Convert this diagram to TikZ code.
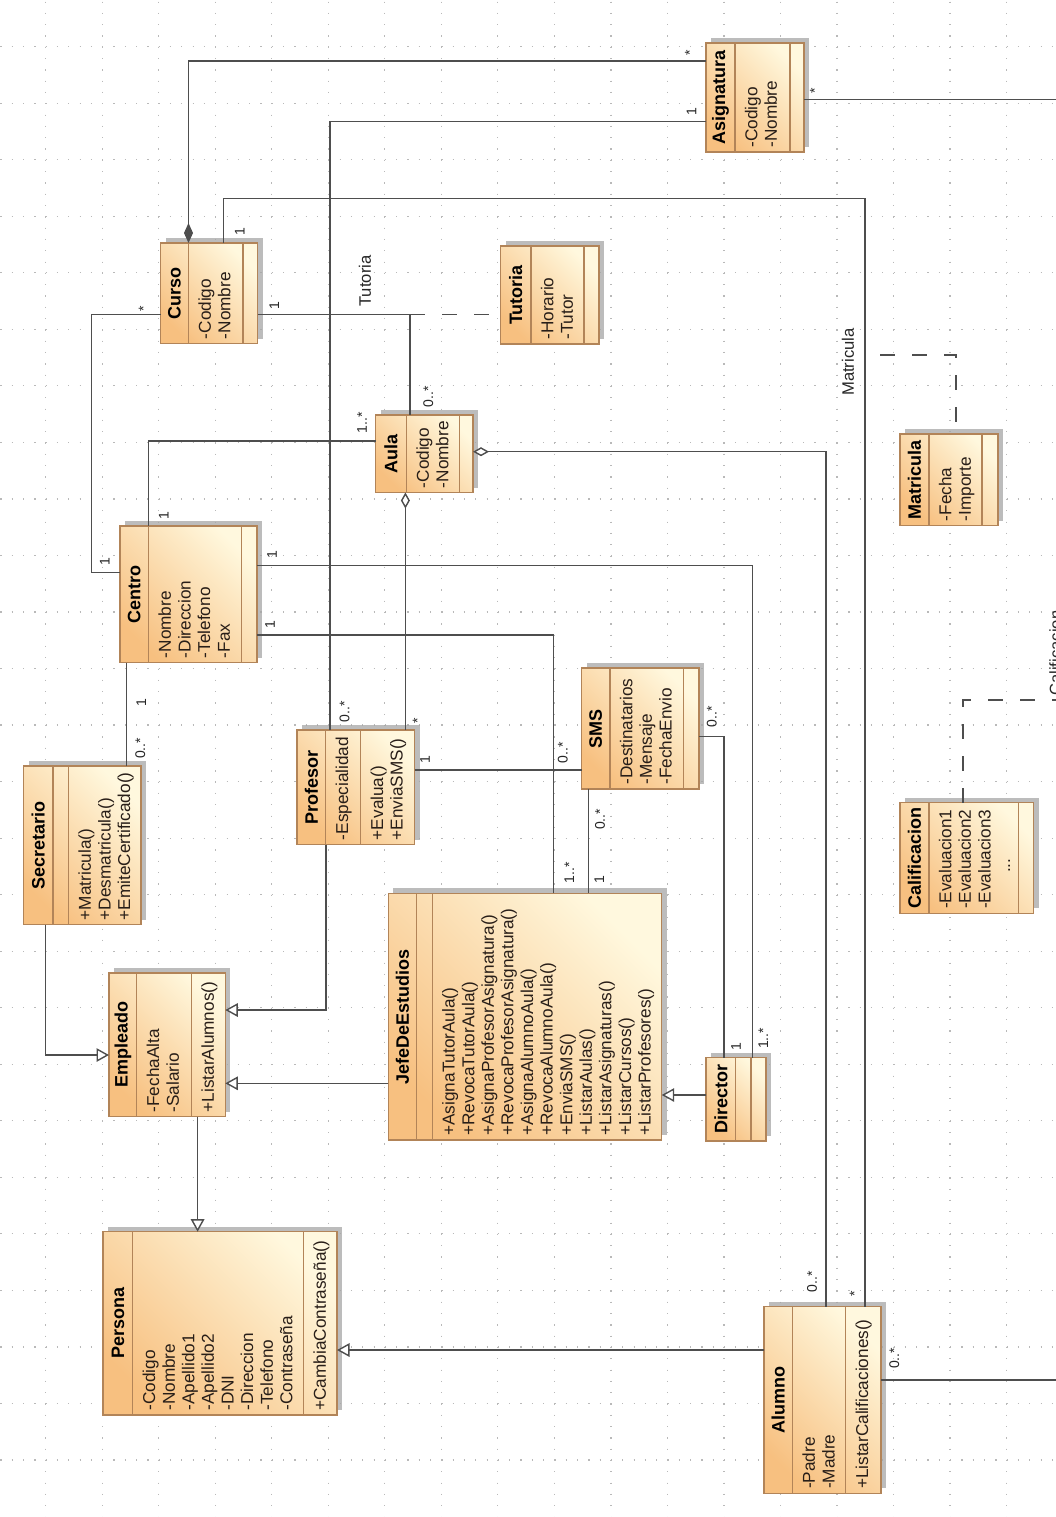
\documentclass[tikz,border=0pt]{standalone}
\usepackage{fontspec}
\setmainfont{Liberation Sans}
\usetikzlibrary{arrows.meta,fit,shadows}
\definecolor{cLight}{RGB}{255,248,222}
\definecolor{cDark}{RGB}{247,192,128}
\definecolor{cBord}{RGB}{178,132,88}
\definecolor{lineC}{RGB}{78,78,78}
\definecolor{gridC}{RGB}{185,185,185}
\definecolor{txtC}{RGB}{40,30,24}

\newcommand\umlcls[7]{\def\cN{#1}\def\cXa{#2}\def\cYa{#3}\def\cXb{#4}\def\cYb{#5}\def\cDa{#6}\def\cDb{#7}\umlclsfinish}
\newcommand\umlclsfinish[3]{%
  \node[classbox, fit={(\cXa,\cYa) (\cXb,\cYb)}] (\cN) {};
  \draw[cborder] (\cN.north -| \cDa,0) -- (\cN.south -| \cDa,0) (\cN.north -| \cDb,0) -- (\cN.south -| \cDb,0);
  \node[cname] (\cN-t) at ({(\cXa+\cDa)/2},{(\cYa+\cYb)/2}) {#1};
  \node[cattr] (\cN-a) at ({\cDa+9.5},{\cYb-4}) {#2};
  \node[cattr] (\cN-m) at ({\cDb+9.5},{\cYb-4}) {#3};
}

\begin{document}
\begin{tikzpicture}[x=0.5pt,y=-0.5pt,
  classbox/.style={rectangle, inner sep=0pt, outer sep=0pt, draw=cBord, line width=0.65pt,
    top color=cLight, bottom color=cDark, shading angle=-45,
    drop shadow={shadow xshift=2.5pt, shadow yshift=2.5pt, fill=black!35, opacity=0.75}},
  cborder/.style={draw=cBord, line width=0.65pt},
  cname/.style={rotate=90, inner sep=0pt, font=\fontsize{9}{10}\selectfont\bfseries, text=black},
  cattr/.style={rotate=90, anchor=north west, align=left, inner sep=0pt, font=\fontsize{8.6}{9.8}\selectfont, text=txtC},
  mult/.style={rotate=90, inner sep=0pt, font=\fontsize{7}{8}\selectfont, text=black!85},
  alabel/.style={rotate=90, inner sep=0pt, font=\fontsize{8.3}{9}\selectfont, text=black!85},
  assoc/.style={draw=lineC, line width=0.7pt},
  gen/.style={assoc, -{Triangle[fill=white, length=6.25pt, width=6.75pt]}},
  comp/.style={assoc, {Diamond[fill=lineC, length=10pt, width=4.5pt]}-},
  aggr/.style={assoc, {Diamond[fill=white, length=8pt, width=4.5pt]}-},
  dashline/.style={draw=lineC, line width=0.7pt, dash pattern=on 7.5pt off 8.5pt}
]
\useasboundingbox (0,0) rectangle (1056,1517);
\clip (0,0) rectangle (1056,1517);
\fill[white] (0,0) rectangle (1056,1517);

% background dotted grid
\foreach \k in {0,...,25}
  \draw[gridC, line width=0.6pt, dash pattern=on 0.6pt off 5.053pt] ({0.4},{46.7+56.53*\k}) -- ({1056},{46.7+56.53*\k});
\foreach \k in {0,...,17}
  \draw[gridC, line width=0.6pt, dash pattern=on 0.6pt off 5.053pt] ({45.6+56.53*\k},{1.5}) -- ({45.6+56.53*\k},{1517});

% classes
\umlcls{curso}{160.5}{243}{257.5}{343.5}{188.5}{243}{Curso}{-Codigo\\-Nombre}{}
\umlcls{asig}{706}{43}{804}{152}{735}{790}{Asignatura}{-Codigo\\-Nombre}{}
\umlcls{tut}{500.5}{246}{599}{344}{531}{584}{Tutoria}{-Horario\\-Tutor}{}
\umlcls{aula}{375.5}{415}{473}{492.5}{406.5}{459.5}{Aula}{-Codigo\\-Nombre}{}
\umlcls{centro}{120}{526}{257}{662.5}{148.6}{241.6}{Centro}{-Nombre\\-Direccion\\-Telefono\\-Fax}{}
\umlcls{matr}{900}{434}{998}{525.5}{929}{982}{Matricula}{-Fecha\\-Importe}{}
\umlcls{sms}{581.5}{668}{699}{789}{610}{683.5}{SMS}{-Destinatarios\\-Mensaje\\-FechaEnvio}{}
\umlcls{prof}{297}{730}{414.5}{844.5}{325.7}{360.7}{Profesor}{-Especialidad}{+Evalua()\\+EnviaSMS()}
\umlcls{secr}{23.5}{766}{141}{924.5}{53}{68.6}{Secretario}{}{+Matricula()\\+Desmatricula()\\+EmiteCertificado()}
\umlcls{empl}{109}{973}{225.3}{1116.7}{136.8}{191.6}{Empleado}{-FechaAlta\\-Salario}{+ListarAlumnos()}
\umlcls{jefe}{388.3}{893.3}{661.7}{1140}{416.7}{432.3}{JefeDeEstudios}{}{+AsignaTutorAula()\\+RevocaTutorAula()\\+AsignaProfesorAsignatura()\\+RevocaProfesorAsignatura()\\+AsignaAlumnoAula()\\+RevocaAlumnoAula()\\+EnviaSMS()\\+ListarAulas()\\+ListarAsignaturas()\\+ListarCursos()\\+ListarProfesores()}
\umlcls{dir}{706}{1057.7}{766}{1141}{735.7}{751}{Director}{}{}
\umlcls{calif}{900}{802.7}{1033.7}{913.3}{929}{1018.4}{Calificacion}{-Evaluacion1\\-Evaluacion2\\-Evaluacion3\\\hspace*{18pt}...}{}
\umlcls{pers}{103}{1231.7}{337}{1415}{132.8}{303.4}{Persona}{-Codigo\\-Nombre\\-Apellido1\\-Apellido2\\-DNI\\-Direccion\\-Telefono\\-Contraseña}{+CambiaContraseña()}
\umlcls{alum}{764}{1306.7}{881}{1493.3}{792.6}{845.7}{Alumno}{-Padre\\-Madre}{+ListarCalificaciones()}

% helper coordinates
\coordinate (kMat) at (865,198.3);
\coordinate (kTut) at (410,314.3);
\coordinate (kMd) at (880,355);
\coordinate (eA) at (1056,99.3);
\coordinate (eB) at (1056,1380);
\coordinate (eC) at (1056,700);

% associations
\draw[comp] (curso.north -| 188.5,0) |- (asig.west |- 0,61);
\draw[assoc] (prof.north -| 330,0) |- (asig.west |- 0,121.7);
\draw[assoc] (curso.north -| 223.6,0) |- (kMat) -- (alum.north -| kMat);
\draw[assoc] (curso.east |- kTut) -| (aula.north -| kTut);
\draw[dashline] (kTut) -- (tut.west |- kTut);
\draw[assoc] (curso.west |- 0,314.3) -| (91.2,572.3) -- (centro.west |- 0,572.3);
\draw[assoc] (centro.north -| 148.6,0) |- (aula.west |- 0,441);
\draw[aggr] (aula.south -| 405.4,0) -- (prof.north -| 405.4,0);
\draw[aggr] (aula.east |- 0,451.7) -| (alum.north -| 826,0);
\draw[assoc] (centro.east |- 0,565.7) -| (dir.north -| 752.5,0);
\draw[assoc] (centro.east |- 0,635) -| (jefe.north -| 553.3,0);
\draw[assoc] (prof.east |- 0,770) -- (sms.west |- 0,770);
\draw[assoc] (sms.south -| 588.3,0) -- (jefe.north -| 588.3,0);
\draw[assoc] (sms.east |- 0,736.7) -| (dir.north -| 724,0);
\draw[assoc] (centro.south -| 126.7,0) -- (secr.north -| 126.7,0);
\draw[assoc] (asig.east |- eA) -- (eA);
\draw[assoc] (alum.east |- eB) -- (eB);
\draw[dashline] (kMd) -| (matr.north -| 956,0);
\draw[dashline] (calif.north -| 963,0) |- (eC);

% generalizations
\draw[gen] (secr.south -| 45.6,0) |- (empl.west |- 0,1055);
\draw[gen] (prof.south -| 326,0) |- (empl.east |- 0,1010);
\draw[gen] (jefe.west |- 0,1083.3) -- (empl.east |- 0,1083.3);
\draw[gen] (dir.west |- 0,1095) -- (jefe.east |- 0,1095);
\draw[gen] (empl.south -| 197.6,0) -- (pers.north -| 197.6,0);
\draw[gen] (alum.west |- 0,1350) -- (pers.east |- 0,1350);

% association labels
\node[alabel] (lTut) at (365,281) {Tutoria};
\node[alabel] (lMat) at (848,362) {Matricula};
\node[alabel, anchor=north west] (lCal) at (1049,696) {Calificacion};

% multiplicities
\node[mult] (m1) at (689.7,52.7) {*};
\node[mult] (m2) at (691.5,111.7) {1};
\node[mult] (m3) at (814.9,90.7) {*};
\node[mult] (m4) at (239.9,231.7) {1};
\node[mult] (m5) at (274.3,306) {1};
\node[mult] (m6) at (143.6,308.3) {*};
\node[mult] (m7) at (104.7,561.7) {1};
\node[mult] (m8) at (163.9,516) {1};
\node[mult] (m9) at (362,422.7) {1..*};
\node[mult] (m10) at (428.4,396.7) {0..*};
\node[mult] (m11) at (272,555) {1};
\node[mult] (m12) at (270,625) {1};
\node[mult] (m13) at (141.2,702.7) {1};
\node[mult] (m14) at (140.2,748.3) {0..*};
\node[mult] (m15) at (344.6,711.7) {0..*};
\node[mult] (m16) at (417.5,720.7) {*};
\node[mult] (m17) at (425,760) {1};
\node[mult] (m18) at (562.7,752.7) {0..*};
\node[mult] (m19) at (711.7,716.7) {0..*};
\node[mult] (m20) at (600,819.3) {0..*};
\node[mult] (m21) at (569.3,872.7) {1..*};
\node[mult] (m22) at (599.3,880) {1};
\node[mult] (m23) at (736,1046.7) {1};
\node[mult] (m24) at (763.3,1038.3) {1..*};
\node[mult] (m25) at (812,1281.7) {0..*};
\node[mult] (m26) at (854.6,1293.3) {*};
\node[mult] (m27) at (894.3,1358.3) {0..*};
\end{tikzpicture}
\end{document}
